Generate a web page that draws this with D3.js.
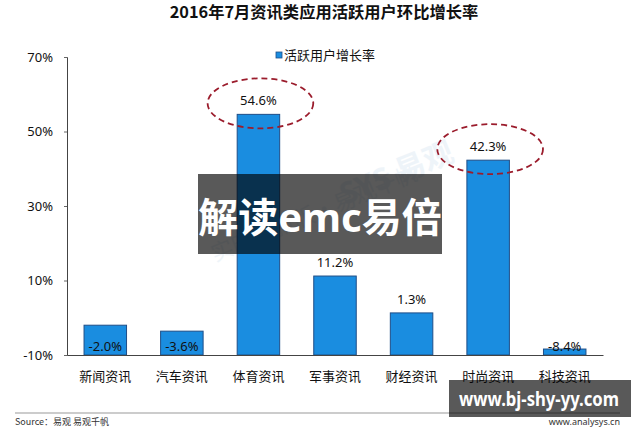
<!DOCTYPE html>
<html>
<head>
<meta charset="utf-8">
<script src="https://cdn.jsdelivr.net/npm/d3@7/dist/d3.min.js"></script>
<style>
  html, body { margin: 0; padding: 0; background: #fff; }
  svg { display: block; font-family: "Noto Sans", "Noto Sans CJK SC", sans-serif; }
</style>
</head>
<body>
<svg id="chart" width="640" height="427"></svg>
<script>
const title = "2016年7月资讯类应用活跃用户环比增长率";
const seriesName = "活跃用户增长率";
const categories = ["新闻资讯", "汽车资讯", "体育资讯", "军事资讯", "财经资讯", "时尚资讯", "科技资讯"];
const values = [-2.0, -3.6, 54.6, 11.2, 1.3, 42.3, -8.4];
const yTicks = [-10, 10, 30, 50, 70];
const highlighted = ["体育资讯", "时尚资讯"];
const watermarkText = "解读emc易倍";
const badgeText = "www.bj-shy-yy.com";
const sourceLeft = "Source：易观 易观千帆";
const sourceRight = "www.analysys.cn";

const svg = d3.select("#chart");
const plot = { left: 67, right: 603, top: 57, bottom: 355 };

const x = d3.scaleBand().domain(categories).range([plot.left, plot.right]).paddingInner(0.445).paddingOuter(0.2225);
const y = d3.scaleLinear().domain([-10, 70]).range([plot.bottom, plot.top]);
const base = y.domain()[0];

// faint background watermark
const wm = svg.append("g").attr("fill", "#e4eef6").attr("opacity", 0.6);
wm.append("text").attr("transform", "translate(215,262) rotate(-22)")
  .attr("font-size", 22).attr("font-family", "Noto Sans CJK SC").text("实时·新版·易观千帆");
wm.append("text").attr("transform", "translate(345,205) rotate(-22)")
  .attr("font-size", 30).attr("font-weight", "bold").text("SYS 易观");

// title
svg.append("text").attr("x", 324).attr("y", 18).attr("text-anchor", "middle")
  .attr("font-size", 16.3).attr("font-weight", "bold").attr("fill", "#111")
  .attr("font-family", "Noto Sans CJK SC").text(title);

// legend
svg.append("rect").attr("x", 276).attr("y", 52).attr("width", 6).attr("height", 6)
  .attr("fill", "#1a8de0").attr("stroke", "#1f4e87").attr("stroke-width", 0.8);
svg.append("text").attr("x", 284).attr("y", 59.5).attr("font-size", 13).attr("fill", "#111")
  .attr("font-family", "Noto Sans CJK SC").text(seriesName);

// y axis
const yAxis = svg.append("g").attr("transform", `translate(${plot.left},0)`)
  .call(d3.axisLeft(y).tickValues(yTicks).tickSize(3).tickPadding(11).tickFormat(d => d + "%"));
yAxis.select(".domain").attr("stroke", "#444");
yAxis.selectAll(".tick line").attr("stroke", "#666");
yAxis.selectAll("text").attr("font-size", 13).attr("fill", "#111")
  .attr("font-family", "Noto Sans, sans-serif");

// bars
svg.append("g").selectAll("rect").data(categories).join("rect")
  .attr("x", d => x(d)).attr("width", x.bandwidth())
  .attr("y", (d, i) => y(values[i])).attr("height", (d, i) => y(base) - y(values[i]))
  .attr("fill", "#1a8de0").attr("stroke", "#1f4e87").attr("stroke-width", 1);

// x axis
const xAxis = svg.append("g").attr("transform", `translate(0,${plot.bottom})`)
  .call(d3.axisBottom(x).tickSize(0).tickPadding(17).tickSizeOuter(0));
xAxis.select(".domain").attr("stroke", "#444");
xAxis.selectAll("text").attr("font-size", 13).attr("fill", "#111")
  .attr("font-family", "Noto Sans CJK SC");

// value labels (negative values are clamped to the bottom of the plot)
svg.append("g").selectAll("text").data(categories).join("text")
  .attr("x", d => x(d) + x.bandwidth() / 2)
  .attr("y", (d, i) => values[i] >= 0 ? y(values[i]) - 9 : y(base) - 4)
  .attr("text-anchor", "middle").attr("font-size", 13).attr("fill", "#111")
  .text((d, i) => values[i].toFixed(1) + "%");

// dashed ellipses
svg.append("g").selectAll("ellipse").data(highlighted).join("ellipse")
  .attr("cx", d => x(d) + x.bandwidth() / 2 + 2)
  .attr("cy", d => y(values[categories.indexOf(d)]) - 11)
  .attr("rx", x.step() * 0.69).attr("ry", 25)
  .attr("fill", "none").attr("stroke", "#9b1c2c").attr("stroke-width", 1.8)
  .attr("stroke-dasharray", "6,4");

// footer
svg.append("line").attr("x1", 15).attr("x2", 620).attr("y1", 413).attr("y2", 413)
  .attr("stroke", "#999").attr("stroke-width", 1);
svg.append("text").attr("x", 15).attr("y", 425).attr("font-size", 9).attr("fill", "#333")
  .attr("font-family", "Noto Sans CJK SC").text(sourceLeft);
svg.append("text").attr("x", 620).attr("y", 425).attr("text-anchor", "end").attr("font-size", 9)
  .attr("fill", "#333").text(sourceRight);

// overlay banner
svg.append("rect").attr("x", 198).attr("y", 174).attr("width", 244).attr("height", 80)
  .attr("fill", "rgba(0,0,0,0.65)");
svg.append("text").attr("x", 320).attr("y", 232).attr("text-anchor", "middle")
  .attr("font-size", 40).attr("font-weight", "bold").attr("fill", "#fff").text(watermarkText);

// bottom-right badge
svg.append("rect").attr("x", 449).attr("y", 380).attr("width", 182).attr("height", 37)
  .attr("fill", "rgba(0,0,0,0.65)");
svg.append("text").attr("x", 459).attr("y", 406).attr("font-size", 19).attr("font-weight", "bold")
  .attr("fill", "#fff").attr("textLength", 160).attr("lengthAdjust", "spacingAndGlyphs").text(badgeText);
</script>
</body>
</html>
